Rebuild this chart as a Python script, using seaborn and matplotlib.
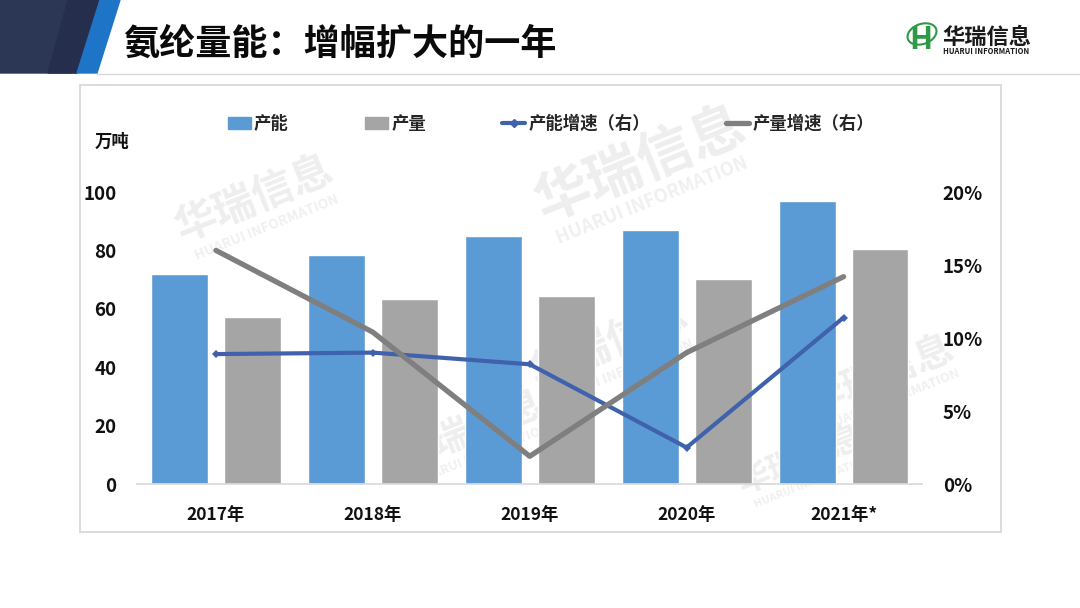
import numpy as np
import pandas as pd
import matplotlib
matplotlib.use("Agg")
import matplotlib.pyplot as plt
import seaborn as sns
from matplotlib.patches import Polygon, Rectangle, Patch, Ellipse
from matplotlib.lines import Line2D
from matplotlib.ticker import PercentFormatter

# 数据
years = ["2017年", "2018年", "2019年", "2020年", "2021年*"]
capacity = [72, 78.4, 85, 87, 97]          # 产能（万吨）
output = [57.2, 63.4, 64.4, 70.2, 80.5]    # 产量（万吨）
capacity_growth = [8.9, 9.0, 8.2, 2.5, 11.4]   # 产能增速（%）
output_growth = [16.0, 10.4, 1.9, 9.0, 14.2]   # 产量增速（%）
series_names = ["产能", "产量", "产能增速（右）", "产量增速（右）"]

bar_colors = ["#5B9BD5", "#A5A5A5"]
line_colors = ["#4062AC", "#7F7F7F"]

sns.set_theme(style="white")
plt.rcParams["font.family"] = ["Noto Sans CJK SC", "DejaVu Sans"]
plt.rcParams["font.weight"] = "bold"

fig = plt.figure(figsize=(10.8, 6.08), dpi=100)

# 背景层（像素坐标）
bg = fig.add_axes([0, 0, 1, 1], zorder=0)
bg.set_xlim(0, 1080)
bg.set_ylim(608, 0)
bg.axis("off")
bg.add_patch(Polygon([(0, 0), (100, 0), (77, 73), (0, 73)], color="#2C3756"))
bg.add_patch(Polygon([(68, 0), (100, 0), (77, 73), (48, 73)], color="#252F4D"))
bg.add_patch(Polygon([(100, 0), (120, 0), (97, 73), (77, 73)], color="#1E74C6"))
bg.plot([97, 1080], [74, 74], color="#D9D9D9", lw=1)
bg.add_patch(Rectangle((80, 85), 921, 447, fill=False, ec="#D6D6D6", lw=1.2))
bg.text(123, 44, "氨纶量能：增幅扩大的一年", fontsize=26, fontweight="heavy",
        va="center", ha="left", color="#0A0A0A")

# logo
bg.add_patch(Ellipse((922, 34), 30, 20, angle=-20, fill=False, ec="#2E9A48", lw=1.5))
bg.text(921, 40, "H", fontsize=22, fontweight="bold", color="#2E9A48",
        ha="center", va="center")
bg.text(942, 37, "华瑞信息", fontsize=16, fontweight="bold", color="#1A1A1A",
        ha="left", va="center")
bg.text(943, 52, "HUARUI INFORMATION", fontsize=5.5, fontweight="bold",
        color="#1A1A1A", ha="left", va="center")

# 水印
for (wx, wy, s) in [(255, 200, 30), (640, 165, 40), (610, 345, 30), (880, 375, 28),
                    (470, 430, 28), (800, 460, 24)]:
    bg.text(wx, wy, "华瑞信息", fontsize=s, fontweight="bold", color="#EEEEEE",
            rotation=22, ha="center", va="center")
    bg.text(wx + 12, wy + s * 0.9, "HUARUI INFORMATION", fontsize=s * 0.33,
            fontweight="bold", color="#F0F0F0", rotation=22, ha="center", va="center")

# 柱状图
ax = fig.add_axes([0.1273, 0.2039, 0.7264, 0.4803], zorder=1)
ax.patch.set_visible(False)
df = pd.DataFrame({
    "年份": years * 2,
    "类型": [series_names[0]] * len(years) + [series_names[1]] * len(years),
    "数值": capacity + output,
})
sns.barplot(data=df, x="年份", y="数值", hue="类型", palette=bar_colors,
            width=0.93, gap=0.22, legend=False, ax=ax, saturation=1)
ax.set_xlim(-0.5, len(years) - 0.5)
ax.set_ylim(0, 100)
ax.set_yticks([0, 20, 40, 60, 80, 100])
ax.set_xlabel("")
ax.set_ylabel("")
for side in ["top", "left", "right"]:
    ax.spines[side].set_visible(False)
ax.spines["bottom"].set_color("#D9D9D9")
ax.tick_params(axis="y", length=0, pad=15, labelsize=13.5)
ax.tick_params(axis="x", length=0, pad=16, labelsize=12.5)
for t in ax.get_xticklabels() + ax.get_yticklabels():
    t.set_fontweight("bold")
    t.set_color("#111111")

# 增速折线（右轴）
ax2 = ax.twinx()
ax2.set_zorder(2)
ax2.patch.set_visible(False)
xpos = np.arange(len(years))
sns.lineplot(x=xpos, y=capacity_growth, color=line_colors[0], lw=3,
             marker="D", markersize=4, markeredgewidth=0, ax=ax2)
sns.lineplot(x=xpos, y=output_growth, color=line_colors[1], lw=3.8,
             solid_capstyle="round", ax=ax2)
ax2.set_ylim(0, 20)
ax2.set_yticks([0, 5, 10, 15, 20])
ax2.yaxis.set_major_formatter(PercentFormatter(decimals=0))
for side in ["top", "left", "right", "bottom"]:
    ax2.spines[side].set_visible(False)
ax2.tick_params(axis="y", length=0, pad=15, labelsize=13.5)
for t in ax2.get_yticklabels():
    t.set_fontweight("bold")
    t.set_color("#111111")
ax.set_xlim(-0.5, len(years) - 0.5)

fig.text(95 / 1080, 1 - 142 / 608, "万吨", fontsize=12.5, fontweight="bold",
         ha="left", va="center", color="#111111")

handles = [
    Patch(color=bar_colors[0]),
    Patch(color=bar_colors[1]),
    Line2D([], [], color=line_colors[0], lw=3, marker="D", markersize=4),
    Line2D([], [], color=line_colors[1], lw=3.8),
]
fig.legend(handles, series_names, loc="center", bbox_to_anchor=(551 / 1080, 1 - 124 / 608),
           ncol=4, frameon=False, handlelength=1.3, handletextpad=0.2,
           columnspacing=4.4, prop={"weight": "bold", "size": 12.5})

fig.savefig("out.png", dpi=100)
